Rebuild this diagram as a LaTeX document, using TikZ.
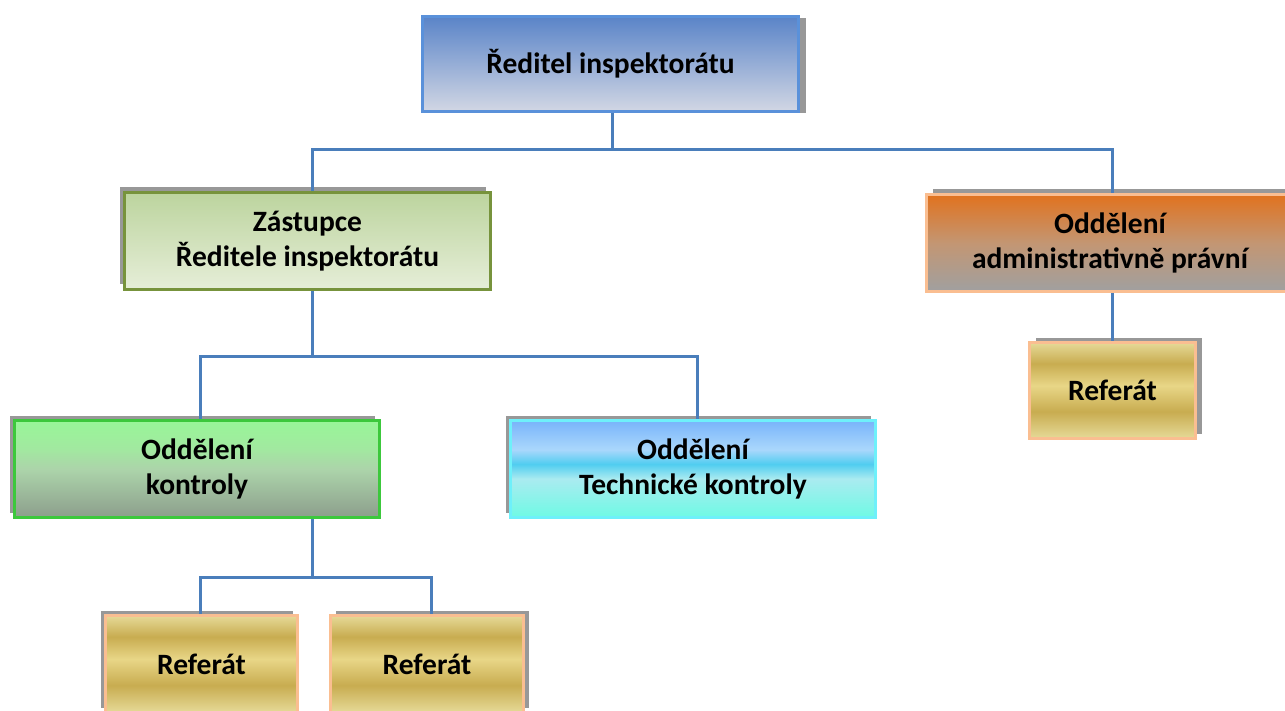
\documentclass[tikz,border=0pt]{standalone}
\usepackage{fontspec}
\setmainfont{Carlito}
\usetikzlibrary{shadows}
\definecolor{conncol}{RGB}{74,126,187}
\definecolor{shadowgray}{RGB}{152,152,152}
\definecolor{bTop}{RGB}{90,145,218}
\definecolor{bZast}{RGB}{119,147,60}
\definecolor{bOrange}{RGB}{250,190,145}
\definecolor{bGreen}{RGB}{60,200,60}
\definecolor{bCyan}{RGB}{110,240,250}
% shading colours
\definecolor{tT}{RGB}{90,132,200}\definecolor{tB}{RGB}{210,215,228}
\definecolor{zT}{RGB}{188,212,158}\definecolor{zB}{RGB}{230,238,216}
\definecolor{aT}{RGB}{225,114,30}\definecolor{aM}{RGB}{195,150,115}\definecolor{aB}{RGB}{160,160,160}
\definecolor{kT}{RGB}{152,246,152}\definecolor{kM}{RGB}{162,232,160}\definecolor{kN}{RGB}{172,212,170}\definecolor{kB}{RGB}{140,158,140}
\definecolor{eT}{RGB}{120,180,250}\definecolor{eA}{RGB}{170,215,252}\definecolor{eM}{RGB}{80,205,240}\definecolor{eC}{RGB}{170,235,240}\definecolor{eB}{RGB}{110,250,228}
\definecolor{gL}{RGB}{230,218,152}\definecolor{gD}{RGB}{200,172,80}\definecolor{gM}{RGB}{232,214,135}
\pgfdeclareverticalshading{topshade}{100bp}{color(0bp)=(tB); color(25bp)=(tB); color(75bp)=(tT); color(100bp)=(tT)}
\pgfdeclareverticalshading{zastshade}{100bp}{color(0bp)=(zB); color(25bp)=(zB); color(75bp)=(zT); color(100bp)=(zT)}
\pgfdeclareverticalshading{admshade}{100bp}{color(0bp)=(aB); color(25bp)=(aB); color(50bp)=(aM); color(75bp)=(aT); color(100bp)=(aT)}
\pgfdeclareverticalshading{kontshade}{100bp}{color(0bp)=(kB); color(25bp)=(kB); color(50bp)=(kN); color(60bp)=(kM); color(75bp)=(kT); color(100bp)=(kT)}
\pgfdeclareverticalshading{techshade}{100bp}{color(0bp)=(eB); color(25bp)=(eB); color(45bp)=(eC); color(52.5bp)=(eM); color(60bp)=(eA); color(75bp)=(eT); color(100bp)=(eT)}
\pgfdeclareverticalshading{goldshade}{100bp}{color(0bp)=(gL); color(25bp)=(gL); color(39bp)=(gD); color(52.5bp)=(gM); color(64bp)=(gD); color(75bp)=(gL); color(100bp)=(gL)}
\begin{document}
\begin{tikzpicture}[x=1pt,y=-1pt,
  box/.style={shade, line width=3pt, align=center, inner sep=0pt,
    font=\fontsize{29.5}{35}\selectfont\bfseries, text=black},
  shadowbox/.style 2 args={general shadow={shadow xshift=#1pt, shadow yshift=#2pt, fill=shadowgray, opacity=1}},
  conn/.style={draw=conncol, line width=3pt}]
\useasboundingbox (0,0) rectangle (1285,711);
% boxes
\node[box, shading=topshade, draw=bTop, minimum width=376pt, minimum height=95pt, shadowbox={7}{-2}] (top) at (610.5,64) {Ředitel inspektorátu};
\node[box, shading=zastshade, draw=bZast, minimum width=366pt, minimum height=97pt, shadowbox={-5}{5}] (zast) at (307.5,241) {Zástupce\\Ředitele inspektorátu};
\node[box, shading=admshade, draw=bOrange, minimum width=367pt, minimum height=97pt, shadowbox={6}{5}] (adm) at (1110,243) {Oddělení\\administrativně právní};
\node[box, shading=kontshade, draw=bGreen, minimum width=365pt, minimum height=97pt, shadowbox={-5}{5}] (kont) at (197,469) {Oddělení\\kontroly};
\node[box, shading=techshade, draw=bCyan, minimum width=365pt, minimum height=97pt, shadowbox={-5}{5}] (tech) at (693,469) {Oddělení\\Technické kontroly};
\node[box, shading=goldshade, draw=bOrange, minimum width=192pt, minimum height=97pt, shadowbox={-5}{5}] (ref1) at (201.5,664) {Referát};
\node[box, shading=goldshade, draw=bOrange, minimum width=193pt, minimum height=97pt, shadowbox={5}{5}] (ref2) at (427,664) {Referát};
\node[box, shading=goldshade, draw=bOrange, minimum width=166pt, minimum height=96pt, shadowbox={6}{5}] (ref3) at (1112.5,390.5) {Referát};
% connectors
\coordinate (b1) at (612,150);
\coordinate (b2) at (312,356);
\coordinate (b3) at (312,577);
\draw[conn] (top.south -| b1) -- (b1);
\draw[conn] ([xshift=4.5pt]zast.north) |- (b1) -| ([xshift=2pt]adm.north);
\draw[conn] ([xshift=4.5pt]zast.south) -- (b2);
\draw[conn] ([xshift=3pt]kont.north) |- (b2) -| ([xshift=4pt]tech.north);
\draw[conn] (kont.south -| b3) -- (b3);
\draw[conn] ([xshift=-1.5pt]ref1.north) |- (b3) -| ([xshift=4pt]ref2.north);
\draw[conn] ([xshift=2pt]adm.south) -- ([xshift=-0.5pt]ref3.north);
\end{tikzpicture}
\end{document}
